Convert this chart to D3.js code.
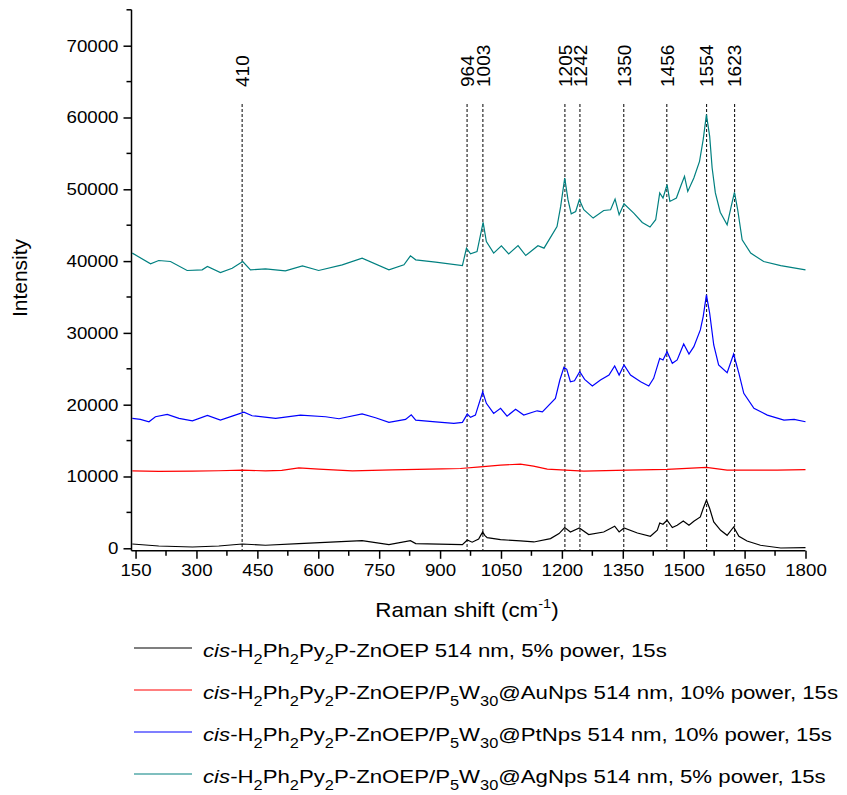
<!DOCTYPE html>
<html>
<head>
<meta charset="utf-8">
<script src="https://cdn.jsdelivr.net/npm/d3@7"></script>
<style>
  body { margin: 0; background: #fff; }
  text { font-family: "Liberation Sans", Arial, sans-serif; fill: #000; }
</style>
</head>
<body>
<div id="chart"></div>
<script>
// Raman spectra: [shift cm-1, intensity]
const blackSpec = [[142,600],[207,320],[290,180],[355,320],[413,600],[470,420],[552,650],[643,880],[708,1070],[774,510],[827,1070],[840,650],[955,510],[967,1150],[979,850],[995,1300],[1000,1800],[1005,2270],[1010,1800],[1016,1490],[1049,1210],[1098,1020],[1131,880],[1172,1350],[1193,2050],[1207,2890],[1221,2270],[1243,2830],[1266,1910],[1303,2270],[1330,3070],[1341,2270],[1353,2830],[1386,2130],[1418,1670],[1435,2510],[1441,3530],[1449,3350],[1459,3910],[1472,2890],[1484,3210],[1499,3810],[1513,3210],[1525,3770],[1541,4370],[1548,5540],[1556,6700],[1564,5540],[1574,3670],[1591,2510],[1607,1810],[1623,2970],[1636,1670],[1656,1020],[1689,420],[1739,40],[1800,100]];

const redSpec = [[142,10790],[207,10720],[290,10740],[355,10800],[413,10880],[470,10790],[510,10850],[552,11200],[601,11020],[684,10790],[782,10930],[905,11060],[950,11110],[999,11340],[1049,11580],[1098,11720],[1130,11440],[1164,11020],[1254,10740],[1361,10880],[1459,10980],[1556,11260],[1607,10880],[1730,10880],[1800,10950]];

const blueSpec = [[142,18090],[162,17950],[183,17620],[199,18320],[228,18650],[257,18090],[290,17760],[327,18510],[359,17860],[388,18410],[417,18970],[437,18460],[495,18090],[556,18550],[618,18320],[651,18040],[708,18730],[741,18180],[774,17530],[815,17950],[829,18600],[840,17860],[889,17620],[934,17390],[955,17530],[967,18690],[975,18230],[987,18550],[1005,21800],[1014,20190],[1032,18790],[1049,19490],[1065,18410],[1086,19350],[1106,18550],[1139,19150],[1152,19010],[1184,20880],[1195,23440],[1205,25210],[1212,24930],[1221,23200],[1231,23340],[1244,24590],[1256,23530],[1275,22600],[1295,23440],[1316,24130],[1330,25390],[1341,24130],[1353,25530],[1369,24130],[1394,23200],[1414,22600],[1426,23670],[1441,26460],[1449,26230],[1459,27380],[1472,25770],[1484,26230],[1500,28460],[1513,27060],[1525,28080],[1541,30410],[1548,32270],[1556,35290],[1564,32740],[1574,28320],[1586,25530],[1607,24450],[1623,27060],[1636,24370],[1648,21580],[1673,19490],[1706,18550],[1747,17860],[1772,17950],[1800,17620]];

const tealSpec = [[142,41110],[187,39620],[207,40080],[236,39940],[277,38690],[314,38780],[327,39240],[359,38400],[388,39010],[414,39940],[433,38780],[470,38920],[519,38640],[561,39340],[601,38690],[659,39480],[708,40410],[774,38780],[811,39480],[827,40730],[840,40180],[889,39850],[955,39380],[965,41800],[975,41010],[991,41330],[1006,45380],[1014,42730],[1032,41110],[1051,42130],[1069,41010],[1092,42170],[1111,40780],[1141,42130],[1156,41800],[1188,44820],[1197,47610],[1207,51570],[1215,48550],[1223,46590],[1234,46910],[1243,48550],[1254,47150],[1277,45990],[1303,47050],[1320,47150],[1331,48640],[1341,46450],[1353,47990],[1377,46690],[1398,45380],[1417,44740],[1431,45760],[1441,49480],[1449,48780],[1459,50640],[1466,48310],[1482,48780],[1494,50640],[1502,51800],[1510,49700],[1525,51570],[1539,53890],[1548,56920],[1556,60400],[1564,57380],[1570,53000],[1578,49500],[1590,46800],[1607,45060],[1617,47610],[1625,49570],[1633,47150],[1644,42970],[1665,41110],[1697,39940],[1739,39380],[1800,38780]];

const peaks = [410, 964, 1003, 1205, 1242, 1350, 1456, 1554, 1623];
const xTicks = [150, 300, 450, 600, 750, 900, 1050, 1200, 1350, 1500, 1650, 1800];
const yTicks = [0, 10000, 20000, 30000, 40000, 50000, 60000, 70000];

// legend rows: pieces [text, kind], i = italic, s = subscript, n = normal
const legendColors = ["#000000", "#ff0000", "#0000ff", "#008080"];
const legendRows = [
  [["cis","i"],["-H","n"],["2","s"],["Ph","n"],["2","s"],["Py","n"],["2","s"],["P-ZnOEP 514 nm, 5% power, 15s","n"]],
  [["cis","i"],["-H","n"],["2","s"],["Ph","n"],["2","s"],["Py","n"],["2","s"],["P-ZnOEP/P","n"],["5","s"],["W","n"],["30","s"],["@AuNps 514 nm, 10% power, 15s","n"]],
  [["cis","i"],["-H","n"],["2","s"],["Ph","n"],["2","s"],["Py","n"],["2","s"],["P-ZnOEP/P","n"],["5","s"],["W","n"],["30","s"],["@PtNps 514 nm, 10% power, 15s","n"]],
  [["cis","i"],["-H","n"],["2","s"],["Ph","n"],["2","s"],["Py","n"],["2","s"],["P-ZnOEP/P","n"],["5","s"],["W","n"],["30","s"],["@AgNps 514 nm, 5% power, 15s","n"]]
];

const W = 847, H = 795;
const sx = 1.1;   // the original text is a bit wider than Arial

const svg = d3.select("#chart").append("svg")
  .attr("width", W).attr("height", H);

const x = d3.scaleLinear().domain([140, 1800]).range([131.5, 805.5]);
const y = d3.scaleLinear().domain([-350, 75000]).range([550.8, 9.8]);

// dashed peak markers
svg.append("g").selectAll("line").data(peaks).join("line")
  .attr("x1", d => x(d) + 1).attr("x2", d => x(d) + 1)
  .attr("y1", 104).attr("y2", y(-350))
  .attr("stroke", "#000").attr("stroke-width", 1)
  .attr("stroke-dasharray", "3,2");

svg.append("g").selectAll("text").data(peaks).join("text")
  .attr("transform", d => `translate(${x(d) + 1},87) rotate(-90)`)
  .attr("dy", "0.36em")
  .attr("font-size", 19)
  .text(d => d);

// spectra
const line = d3.line().x(d => x(d[0])).y(d => y(d[1]));
const series = [blackSpec, redSpec, blueSpec, tealSpec];
svg.append("g").selectAll("path").data(series).join("path")
  .attr("d", line)
  .attr("fill", "none")
  .attr("stroke", (d, i) => legendColors[i])
  .attr("stroke-width", 1.2);

// axes
const xAxis = d3.axisBottom(x).tickValues(xTicks).tickSize(8).tickPadding(5).tickFormat(d3.format("d"));
const gx = svg.append("g").attr("transform", `translate(0,${y(-350)})`).call(xAxis);
gx.select(".domain").attr("d", `M${x(140)},0H${x(1800)}`).attr("stroke-width", 1.5);
gx.selectAll(".tick text")
  .attr("font-size", 17)
  .attr("font-family", "Liberation Sans, Arial, sans-serif")
  .attr("transform", `scale(${sx},1)`);
gx.selectAll(".tick line").attr("stroke-width", 1.5);
const xMinor = d3.range(225, 1800, 150);
gx.selectAll(".minor").data(xMinor).join("line").attr("class", "minor")
  .attr("x1", d => x(d)).attr("x2", d => x(d)).attr("y1", 0).attr("y2", 5)
  .attr("stroke", "#000").attr("stroke-width", 1.5);

const yAxis = d3.axisLeft(y).tickValues(yTicks).tickSize(8).tickPadding(5).tickFormat(d3.format("d"));
const gy = svg.append("g").attr("transform", `translate(${x(140)},0)`).call(yAxis);
gy.select(".domain").attr("d", `M0,${y(-350)}V${y(75000)}`).attr("stroke-width", 1.5);
gy.selectAll(".tick text")
  .attr("font-size", 17)
  .attr("font-family", "Liberation Sans, Arial, sans-serif")
  .attr("x", -13 / sx)
  .attr("transform", `scale(${sx},1)`);
gy.selectAll(".tick line").attr("stroke-width", 1.5);
const yMinor = d3.range(5000, 76000, 10000);
gy.selectAll(".minor").data(yMinor).join("line").attr("class", "minor")
  .attr("y1", d => y(d)).attr("y2", d => y(d)).attr("x1", 0).attr("x2", -5)
  .attr("stroke", "#000").attr("stroke-width", 1.5);

// axis titles
svg.append("text")
  .attr("transform", "translate(27,278) rotate(-90)")
  .attr("text-anchor", "middle")
  .attr("font-size", 21)
  .text("Intensity");

const xt = svg.append("g").attr("transform", "translate(467,617) scale(1.12,1)")
  .append("text")
  .attr("text-anchor", "middle")
  .attr("font-size", 20);
xt.append("tspan").text("Raman shift (cm");
xt.append("tspan").attr("font-size", 13).attr("dy", -9).text("-1");
xt.append("tspan").attr("dy", 9).text(")");

// legend
const rowY = [648, 690, 732, 774];
const lg = svg.append("g");
legendRows.forEach((row, i) => {
  lg.append("line")
    .attr("x1", 134).attr("x2", 192)
    .attr("y1", rowY[i]).attr("y2", rowY[i])
    .attr("stroke", legendColors[i]).attr("stroke-width", 1.2);
  const t = lg.append("g")
    .attr("transform", `translate(203,${rowY[i] + 9}) scale(1.17,1)`)
    .append("text")
    .attr("font-size", 19);
  let prevSub = false;
  row.forEach(([s, k]) => {
    const sp = t.append("tspan").text(s);
    if (k === "i") sp.attr("font-style", "italic");
    if (k === "s") {
      sp.attr("font-size", 14).attr("dy", prevSub ? 0 : 7);
      prevSub = true;
    } else {
      if (prevSub) sp.attr("dy", -7);
      prevSub = false;
    }
  });
});
</script>
</body>
</html>
